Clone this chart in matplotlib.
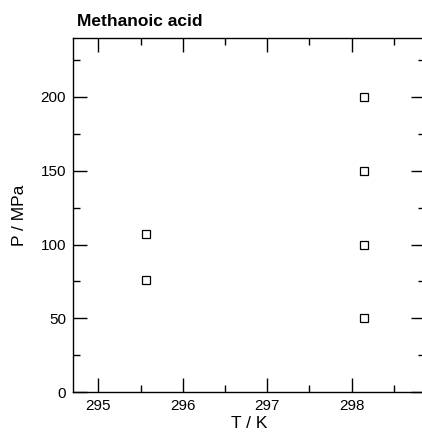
import numpy as np
import matplotlib.pyplot as plt
from matplotlib.ticker import MultipleLocator

# datos
temp_298 = [298.15, 298.15, 298.15, 298.15]
pres_298 = [200, 150, 100, 50]
temp_295 = [295.57, 295.57]
pres_295 = [107, 76]

plt.rcParams['font.family'] = ['Liberation Sans', 'DejaVu Sans']

fig = plt.figure(figsize=(4.22, 4.32), dpi=100)
ax = fig.add_axes([73 / 422, 40 / 432, 352 / 422, 354 / 432])

ax.plot(temp_298, pres_298, 's', ms=6, mfc='none', mec='black', mew=0.9)
ax.plot(temp_295, pres_295, 's', ms=6, mfc='none', mec='black', mew=0.9)

ax.set_xlim(294.70, 298.87)
ax.set_ylim(0, 240)
ax.xaxis.set_major_locator(MultipleLocator(1))
ax.xaxis.set_minor_locator(MultipleLocator(0.5))
ax.yaxis.set_major_locator(MultipleLocator(50))
ax.yaxis.set_minor_locator(MultipleLocator(25))
ax.tick_params(which='both', direction='in', top=True, right=True,
               labelsize=11, width=1)
ax.tick_params(which='major', length=10, pad=5)
ax.tick_params(which='minor', length=5)
ax.set_yticks([0, 50, 100, 150, 200])
ax.set_yticklabels(['0', '50', '100', '150', '200'])

for s in ax.spines.values():
    s.set_linewidth(1)

ax.set_xlabel('T / K', fontsize=12.5, labelpad=2)
ax.set_ylabel('P / MPa', fontsize=12.5, labelpad=10)
ax.text(0.012, 1.025, 'Methanoic acid', transform=ax.transAxes, fontsize=12.5,
        fontweight='bold', ha='left', va='bottom')

fig.savefig('out.png', dpi=100)
